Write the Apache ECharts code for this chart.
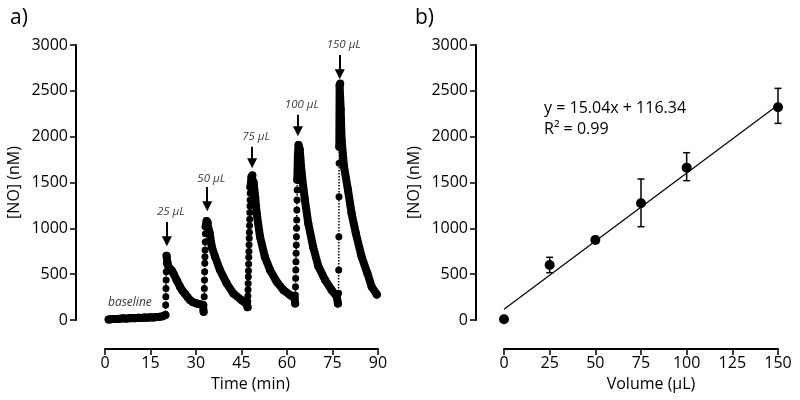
<!DOCTYPE html>
<html>
<head>
<meta charset="utf-8">
<script src="https://cdn.jsdelivr.net/npm/echarts@6/dist/echarts.min.js"></script>
<style>html,body{margin:0;padding:0;background:#fff}#c{width:800px;height:400px}</style>
</head>
<body>
<div id="c"></div>
<script>
// ---------- Panel a: NO release trace (time in min, [NO] in nM) ----------
const baseT = [1.2, 2, 3, 4, 5, 6, 7, 8, 9, 10, 11, 12, 13, 14, 15, 16, 17, 18, 19, 19.9];
const baseV = [5, 8, 12, 10, 15, 18, 15, 20, 22, 20, 25, 22, 28, 25, 30, 28, 32, 35, 40, 55];

const rise1T = [19.9, 20.0, 20.05, 20.1, 20.15, 20.2, 20.25, 20.3];
const rise1V = [55, 165, 255, 345, 436, 527, 618, 700];
const decay1T = [20.3, 20.6, 21.0, 22.0, 22.6, 23.6, 24.7, 25.5, 26.4, 27.2, 28.0, 29.0, 30.2, 31.3, 32.3, 32.5];
const decay1V = [700, 620, 575, 540, 505, 436, 364, 320, 285, 250, 218, 195, 180, 172, 164, 90];

const rise2T = [32.5, 32.6, 32.7, 32.75, 32.8, 32.85, 32.9, 32.95, 33.0, 33.05, 33.1, 33.2];
const rise2V = [90, 165, 255, 345, 436, 527, 618, 691, 764, 850, 940, 1020];
const decay2T = [33.2, 33.5, 33.9, 34.5, 35.2, 36.3, 37.9, 40.1, 42.3, 45.0, 46.8, 47.0];
const decay2V = [1020, 1080, 1060, 950, 800, 690, 545, 400, 290, 218, 170, 140];

const rise3T = [47.0, 47.05, 47.1, 47.15, 47.2, 47.25, 47.3, 47.35, 47.4, 47.45, 47.5, 47.55, 47.6, 47.65, 47.7, 47.75, 47.8, 47.85, 47.9, 47.95];
const rise3V = [140, 205, 262, 330, 398, 472, 538, 612, 684, 748, 822, 893, 958, 1032, 1098, 1172, 1243, 1308, 1382, 1450];
const decay3T = [47.95, 48.3, 48.6, 49.0, 49.5, 50.0, 51.1, 52.7, 54.4, 56.6, 58.8, 61.0, 62.5, 62.7];
const decay3V = [1450, 1560, 1580, 1500, 1345, 1164, 909, 690, 545, 418, 327, 273, 236, 180];

const rise4T = [62.7, 62.75, 62.8, 62.85, 62.9, 62.95, 63.0, 63.05, 63.1, 63.15, 63.2, 63.25, 63.3, 63.35, 63.4];
const rise4V = [180, 273, 364, 455, 545, 636, 727, 818, 909, 1000, 1091, 1200, 1309, 1418, 1530];
const decay4T = [63.4, 63.6, 63.8, 64.2, 64.8, 65.9, 67.0, 68.6, 70.3, 72.5, 74.7, 76.4, 76.8];
const decay4V = [1530, 1800, 1910, 1860, 1610, 1309, 1055, 800, 590, 440, 327, 255, 180];

const rise5T = [76.8, 77.0, 77.05, 77.1, 77.15, 77.2, 77.25];
const rise5V = [180, 291, 545, 909, 1345, 1709, 1891];
const decay5T = [77.25, 77.35, 77.55, 77.7, 78.0, 78.8, 80.1, 81.3, 82.7, 84.6, 86.5, 87.9, 89.6];
const decay5V = [1891, 2560, 2580, 2300, 1964, 1673, 1418, 1164, 945, 690, 509, 364, 278];

// injection arrows and labels
const injLabels = ['25 µL', '50 µL', '75 µL', '100 µL', '150 µL'];
const arrowT = [20.4, 33.7, 48.5, 63.6, 77.4];
const arrowTop = [1070, 1450, 1890, 2240, 2890];
const arrowTip = [860, 1240, 1710, 2060, 2680];
const labelV = [1180, 1540, 2000, 2345, 3000];
const baselineLabel = 'baseline';
const baselinePos = [8.2, 185];

const timeTicks = { min: 0, max: 90, interval: 15 };
const noTicks = { min: 0, max: 3000, interval: 500 };

// ---------- Panel b: calibration ----------
const volumes = [0, 25, 50, 75, 100, 150];
const meanNO = [8, 600, 873, 1273, 1662, 2320];
const errLow = [8, 516, 838, 1018, 1520, 2145];
const errHigh = [8, 684, 910, 1538, 1825, 2527];
const fitLine = [[0, 117], [150, 2345]];
const fitText = 'y = 15.04x + 116.34\nR² = 0.99';
const volTicks = { min: 0, max: 150, interval: 25 };

const FONT = 'Open Sans';
const K = '#000';
const FS = 16;

const zip = (a, b) => a.map((v, i) => [v, b[i]]);
const bands = [[baseT, baseV], [decay1T, decay1V], [decay2T, decay2V], [decay3T, decay3V], [decay4T, decay4V], [decay5T, decay5V]];
const rises = [[rise1T, rise1V], [rise2T, rise2V], [rise3T, rise3V], [rise4T, rise4V], [rise5T, rise5V]];

function makeAxis(extra, margin, nameStyleExtra) {
  return Object.assign({
    type: 'value',
    axisLine: { show: true, onZero: false, lineStyle: { color: K, width: 2 } },
    axisTick: { show: true, length: 6, lineStyle: { color: K, width: 1.5 } },
    splitLine: { show: false },
    axisLabel: { color: K, fontFamily: FONT, fontSize: FS, margin: margin, formatter: v => String(v) },
    nameTextStyle: Object.assign({ color: K, fontFamily: FONT, fontSize: FS }, nameStyleExtra || {})
  }, extra);
}

const series = [];
rises.forEach(([t, v]) => {
  series.push({
    type: 'line', xAxisIndex: 0, yAxisIndex: 0, data: zip(t, v),
    lineStyle: { color: K, width: 1.5, type: 'dotted' },
    symbol: 'circle', symbolSize: 7, showAllSymbol: true,
    itemStyle: { color: K, opacity: 1 }, clip: false, silent: true, z: 3
  });
});
bands.forEach(([t, v]) => {
  series.push({
    type: 'line', xAxisIndex: 0, yAxisIndex: 0, data: zip(t, v),
    lineStyle: { color: K, width: 8, cap: 'round', join: 'round' },
    symbol: 'circle', symbolSize: 8, showAllSymbol: true,
    itemStyle: { color: K, opacity: 1 }, clip: false, silent: true, z: 4
  });
});
// injection labels + arrows
series.push({
  type: 'scatter', xAxisIndex: 0, yAxisIndex: 0,
  data: arrowT.map((t, i) => ({ value: [t, labelV[i]], name: injLabels[i] })),
  symbolSize: 0, clip: false, silent: true,
  label: { show: true, position: 'inside', offset: [4, 0], formatter: p => p.name,
           color: K, fontFamily: FONT, fontStyle: 'italic', fontSize: 11.5 },
  markLine: {
    silent: true, symbol: ['none', 'triangle'], symbolSize: 10,
    label: { show: false },
    lineStyle: { color: K, width: 2, type: 'solid' },
    itemStyle: { color: K },
    emphasis: { disabled: true },
    data: arrowT.map((t, i) => [{ coord: [t, arrowTop[i]] }, { coord: [t, arrowTip[i]] }])
  }
});
series.push({
  type: 'scatter', xAxisIndex: 0, yAxisIndex: 0,
  data: [{ value: baselinePos, name: baselineLabel }],
  symbolSize: 0, clip: false, silent: true,
  label: { show: true, position: 'inside', formatter: p => p.name,
           color: K, fontFamily: FONT, fontStyle: 'italic', fontSize: 12 }
});

// panel b
series.push({
  type: 'line', xAxisIndex: 1, yAxisIndex: 1, data: fitLine,
  lineStyle: { color: K, width: 1.2 }, symbol: 'none', silent: true, z: 2
});
series.push({
  type: 'custom', xAxisIndex: 1, yAxisIndex: 1,
  data: volumes.map((v, i) => [v, errLow[i], errHigh[i]]),
  renderItem: (params, api) => {
    const x = api.value(0);
    const lo = api.coord([x, api.value(1)]);
    const hi = api.coord([x, api.value(2)]);
    const w = 3.5;
    const st = { stroke: K, lineWidth: 1.5 };
    return { type: 'group', children: [
      { type: 'line', shape: { x1: hi[0], y1: hi[1], x2: lo[0], y2: lo[1] }, style: st },
      { type: 'line', shape: { x1: hi[0] - w, y1: hi[1], x2: hi[0] + w, y2: hi[1] }, style: st },
      { type: 'line', shape: { x1: lo[0] - w, y1: lo[1], x2: lo[0] + w, y2: lo[1] }, style: st }
    ] };
  },
  silent: true, clip: false, z: 3
});
series.push({
  type: 'scatter', xAxisIndex: 1, yAxisIndex: 1, data: zip(volumes, meanNO),
  symbol: 'circle', symbolSize: 10, itemStyle: { color: K, opacity: 1 }, clip: false, silent: true, z: 5
});

const chart = echarts.init(document.getElementById('c'), null, { renderer: 'canvas' });
chart.setOption({
  animation: false,
  backgroundColor: '#fff',
  title: [
    { text: 'a)', left: 5, top: 3, textStyle: { fontFamily: FONT, fontSize: 21, fontWeight: 'normal', color: K } },
    { text: 'b)', left: 410, top: 3, textStyle: { fontFamily: FONT, fontSize: 21, fontWeight: 'normal', color: K } },
    { text: fitText, left: 539, top: 93, textStyle: { fontFamily: FONT, fontSize: 16, fontWeight: 'normal', color: K, lineHeight: 21 } }
  ],
  grid: [
    { left: 105, top: 45, width: 273, height: 275 },
    { left: 504, top: 45, width: 274, height: 275 }
  ],
  xAxis: [
    makeAxis({ gridIndex: 0, min: timeTicks.min, max: timeTicks.max, interval: timeTicks.interval,
      offset: 29, name: 'Time (min)', nameLocation: 'middle', nameGap: 27 }, 6, { padding: [0, 0, 0, 18] }),
    makeAxis({ gridIndex: 1, min: volTicks.min, max: volTicks.max, interval: volTicks.interval,
      offset: 29, name: 'Volume (µL)', nameLocation: 'middle', nameGap: 27 }, 6, { padding: [0, 0, 0, 20] })
  ],
  yAxis: [
    makeAxis({ gridIndex: 0, min: noTicks.min, max: noTicks.max, interval: noTicks.interval,
      offset: 29, name: '[NO] (nM)', nameLocation: 'middle', nameRotate: 90, nameGap: 54 }, 8),
    makeAxis({ gridIndex: 1, min: noTicks.min, max: noTicks.max, interval: noTicks.interval,
      offset: 28, name: '[NO] (nM)', nameLocation: 'middle', nameRotate: 90, nameGap: 54 }, 8)
  ],
  series: series
});
</script>
</body>
</html>
